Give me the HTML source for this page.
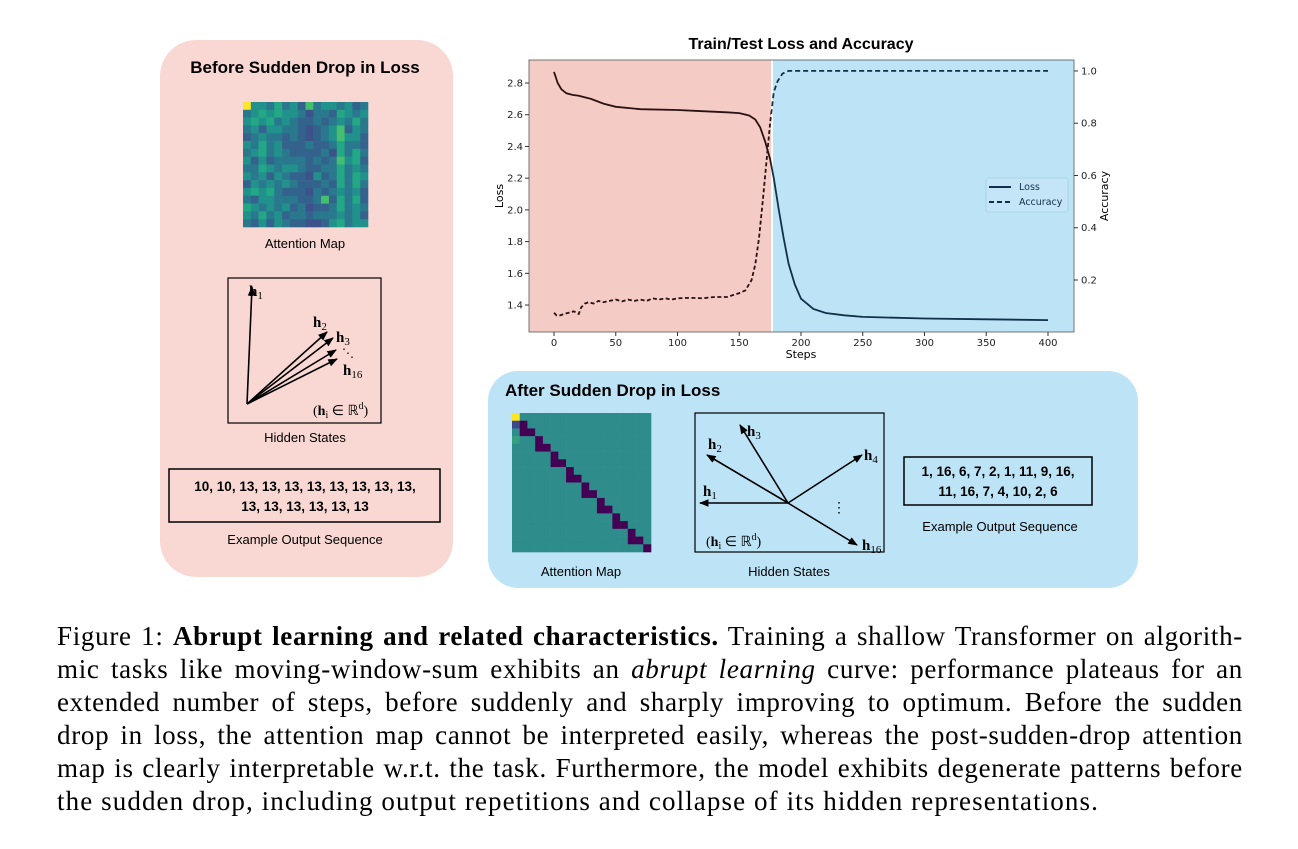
<!DOCTYPE html>
<html><head><meta charset="utf-8">
<style>
body{margin:0;background:#fff;width:1298px;height:849px;position:relative;overflow:hidden;font-family:"Liberation Sans",sans-serif}
.abs{position:absolute}
.cap{position:absolute;left:57px;width:1186px;font-family:"Liberation Serif",serif;font-size:27px;line-height:33px;top:620px;color:#000;letter-spacing:0.7px}
.cap div{text-align:justify;text-align-last:justify;white-space:nowrap}
.cap div.last{text-align-last:left;letter-spacing:1.1px}
</style></head><body>
<div class="abs" style="left:160px;top:40px;width:293px;height:537px;background:#f9d8d4;border-radius:36px"></div>
<div class="abs" style="left:488px;top:371px;width:650px;height:217px;background:#bde3f6;border-radius:30px"></div>
<svg class="abs" style="left:0;top:0" width="1298" height="620">
<defs>
<marker id="ah" viewBox="0 0 10 10" refX="9" refY="5" markerWidth="6" markerHeight="6" orient="auto-start-reverse"><path d="M0,1 L10,5 L0,9 z" fill="#000"/></marker>
<clipPath id="cl"><rect x="529" y="60" width="242" height="272"/></clipPath>
<clipPath id="cr"><rect x="771" y="60" width="303" height="272"/></clipPath>
</defs>
<text x="305" y="73" text-anchor="middle" font-size="17" font-weight="bold" font-family="Liberation Sans">Before Sudden Drop in Loss</text>
<g id="hm1"></g>
<text x="305" y="248" text-anchor="middle" font-size="13">Attention Map</text>
<rect x="228" y="278" width="153" height="145" fill="none" stroke="#000" stroke-width="1.2"/>
<g stroke="#000" stroke-width="1.6" marker-end="url(#ah)">
<line x1="247" y1="404" x2="252" y2="287"/><line x1="247" y1="404" x2="327" y2="332"/><line x1="247" y1="404" x2="333" y2="338"/><line x1="247" y1="404" x2="336" y2="350"/><line x1="247" y1="404" x2="337" y2="359"/></g>
<g font-family="Liberation Serif" font-size="15">
<text x="249" y="296" font-weight="bold">h<tspan font-size="11" font-weight="normal" dy="3">1</tspan></text>
<text x="313" y="327" font-weight="bold">h<tspan font-size="11" font-weight="normal" dy="3">2</tspan></text>
<text x="336" y="342" font-weight="bold">h<tspan font-size="11" font-weight="normal" dy="3">3</tspan></text>
<text x="342" y="357" font-size="12">⋱</text>
<text x="343" y="375" font-weight="bold">h<tspan font-size="11" font-weight="normal" dy="3">16</tspan></text>
<text x="313" y="415" font-size="14">(<tspan font-weight="bold">h</tspan><tspan font-size="10" dy="3">i</tspan><tspan dy="-3"> ∈ ℝ</tspan><tspan font-size="10" dy="-6">d</tspan><tspan dy="6">)</tspan></text></g>
<text x="305" y="442" text-anchor="middle" font-size="13">Hidden States</text>
<rect x="169" y="469" width="271" height="53" fill="none" stroke="#000" stroke-width="1.5"/>
<text x="305" y="491" text-anchor="middle" font-size="13.5" font-weight="bold">10, 10, 13, 13, 13, 13, 13, 13, 13, 13,</text>
<text x="305" y="511" text-anchor="middle" font-size="13.5" font-weight="bold">13, 13, 13, 13, 13, 13</text>
<text x="305" y="544" text-anchor="middle" font-size="13">Example Output Sequence</text>

<text x="505" y="396" font-size="17" font-weight="bold">After Sudden Drop in Loss</text>
<g id="hm2"></g>
<text x="581" y="576" text-anchor="middle" font-size="13">Attention Map</text>
<rect x="695" y="413" width="189" height="139" fill="none" stroke="#000" stroke-width="1.2"/>
<g stroke="#000" stroke-width="1.6" marker-end="url(#ah)">
<line x1="788" y1="503" x2="700" y2="503"/><line x1="788" y1="503" x2="707" y2="455"/><line x1="788" y1="503" x2="740" y2="425"/><line x1="788" y1="503" x2="862" y2="455"/><line x1="788" y1="503" x2="857" y2="545"/></g>
<g font-family="Liberation Serif" font-size="15">
<text x="703" y="496" font-weight="bold">h<tspan font-size="11" font-weight="normal" dy="3">1</tspan></text>
<text x="708" y="449" font-weight="bold">h<tspan font-size="11" font-weight="normal" dy="3">2</tspan></text>
<text x="747" y="436" font-weight="bold">h<tspan font-size="11" font-weight="normal" dy="3">3</tspan></text>
<text x="864" y="460" font-weight="bold">h<tspan font-size="11" font-weight="normal" dy="3">4</tspan></text>
<text x="862" y="550" font-weight="bold">h<tspan font-size="11" font-weight="normal" dy="3">16</tspan></text>
<text x="832" y="512" font-size="14">⋮</text>
<text x="706" y="546" font-size="14">(<tspan font-weight="bold">h</tspan><tspan font-size="10" dy="3">i</tspan><tspan dy="-3"> ∈ ℝ</tspan><tspan font-size="10" dy="-6">d</tspan><tspan dy="6">)</tspan></text></g>
<text x="789" y="576" text-anchor="middle" font-size="13">Hidden States</text>
<rect x="904" y="457" width="188" height="48" fill="none" stroke="#000" stroke-width="1.5"/>
<text x="998" y="476" text-anchor="middle" font-size="13.5" font-weight="bold">1, 16, 6, 7, 2, 1, 11, 9, 16,</text>
<text x="998" y="496" text-anchor="middle" font-size="13.5" font-weight="bold">11, 16, 7, 4, 10, 2, 6</text>
<text x="1000" y="531" text-anchor="middle" font-size="13">Example Output Sequence</text>

<text x="801" y="49" text-anchor="middle" font-size="16" font-weight="bold">Train/Test Loss and Accuracy</text>
<rect x="529" y="60" width="242" height="272" fill="#f5cbc6"/>
<rect x="773" y="60" width="301" height="272" fill="#bde3f7"/>
<rect x="529" y="60" width="545" height="272" fill="none" stroke="#555" stroke-width="0.8"/>
<g id="axes" font-family="DejaVu Sans" font-size="10" fill="#222"></g>
<path id="lossL" fill="none" stroke="#2a1212" stroke-width="1.8" clip-path="url(#cl)"/>
<path id="lossR" fill="none" stroke="#12304a" stroke-width="1.8" clip-path="url(#cr)"/>
<path id="accL" fill="none" stroke="#2a1212" stroke-width="1.8" stroke-dasharray="4,2.5" clip-path="url(#cl)"/>
<path id="accR" fill="none" stroke="#12304a" stroke-width="1.8" stroke-dasharray="5,3" clip-path="url(#cr)"/>
<text x="801" y="358" text-anchor="middle" font-size="11" font-family="DejaVu Sans">Steps</text>
<text transform="translate(503,196) rotate(-90)" text-anchor="middle" font-size="11" font-family="DejaVu Sans">Loss</text>
<text transform="translate(1108,196) rotate(-90)" text-anchor="middle" font-size="11" font-family="DejaVu Sans">Accuracy</text>
<g>
<rect x="986" y="178" width="82" height="34" fill="#c3e5f7" stroke="#9cc" stroke-width="0.6" rx="2"/>
<line x1="989" y1="187" x2="1011" y2="187" stroke="#12304a" stroke-width="2"/>
<text x="1019" y="190" font-size="9.5" font-family="DejaVu Sans" fill="#12304a">Loss</text>
<line x1="989" y1="202" x2="1011" y2="202" stroke="#12304a" stroke-width="2" stroke-dasharray="5,3"/>
<text x="1019" y="205" font-size="9.5" font-family="DejaVu Sans" fill="#12304a">Accuracy</text></g>
</svg>
<div class="cap">
<div>Figure 1: <b>Abrupt learning and related characteristics.</b> Training a shallow Transformer on algorith-</div>
<div>mic tasks like moving-window-sum exhibits an <i>abrupt learning</i> curve: performance plateaus for an</div>
<div>extended number of steps, before suddenly and sharply improving to optimum. Before the sudden</div>
<div>drop in loss, the attention map cannot be interpreted easily, whereas the post-sudden-drop attention</div>
<div>map is clearly interpretable w.r.t. the task. Furthermore, the model exhibits degenerate patterns before</div>
<div class="last">the sudden drop, including output repetitions and collapse of its hidden representations.</div>
</div>
<script>
const lossSteps=[0,3,6,10,15,20,30,40,50,70,100,120,140,150,158,163,167,171,175,178,182,186,190,195,200,210,220,235,250,300,350,400];
const lossVals=[2.87,2.80,2.76,2.735,2.725,2.72,2.70,2.67,2.65,2.635,2.63,2.622,2.615,2.61,2.595,2.57,2.52,2.43,2.32,2.2,2.0,1.82,1.66,1.53,1.44,1.375,1.35,1.335,1.325,1.315,1.31,1.305];
const accSteps=[0,2,5,8,12,16,20,22,25,28,32,36,40,45,50,55,60,65,70,75,80,85,90,95,100,110,120,130,140,150,155,160,163,166,169,172,175,178,181,185,190,200,300,400];
const accVals=[0.075,0.065,0.065,0.07,0.075,0.08,0.07,0.095,0.11,0.115,0.11,0.12,0.115,0.12,0.125,0.118,0.125,0.12,0.125,0.12,0.13,0.125,0.13,0.125,0.13,0.132,0.13,0.135,0.135,0.15,0.16,0.2,0.26,0.36,0.5,0.65,0.8,0.92,0.96,0.99,1.0,1.0,1.0,1.0];
const lossTicks=[1.4,1.6,1.8,2.0,2.2,2.4,2.6,2.8];
const accTicks=[0.2,0.4,0.6,0.8,1.0];
const stepTicks=[0,50,100,150,200,250,300,350,400];
const heat1=["9443534263443423","3454544313325434","4545343223234353","3424433212346243","2343323212346442","4353422232235332","3453432222315353","4242333323236452","3354344322335343","4342432214235354","2434343222325353","4545322213234342","3244333223625352","5434342312235343","4353423323334342","3242432211245344"];
const sx=s=>554+s*1.235, yl=v=>83+(2.8-v)*158.6, ya=v=>332.25-v*261.3;
const ns="http://www.w3.org/2000/svg";
function mk(tag,attrs,parent,txt){const e=document.createElementNS(ns,tag);for(const k in attrs)e.setAttribute(k,attrs[k]);if(txt!==undefined)e.textContent=txt;parent.appendChild(e);return e;}
const ax=document.getElementById('axes');
stepTicks.forEach(s=>{mk('line',{x1:sx(s),x2:sx(s),y1:332,y2:336,stroke:'#333'},ax);const t=mk('text',{x:sx(s),y:346,'text-anchor':'middle'},ax,String(s));

});
lossTicks.forEach(v=>{mk('line',{x1:525,x2:529,y1:yl(v),y2:yl(v),stroke:'#333'},ax);const t=mk('text',{x:523,y:yl(v)+3.5,'text-anchor':'end'},ax,v.toFixed(1));

});
accTicks.forEach(v=>{mk('line',{x1:1074,x2:1078,y1:ya(v),y2:ya(v),stroke:'#333'},ax);const t=mk('text',{x:1081,y:ya(v)+3.5},ax,v.toFixed(1));

});
const lp=lossSteps.map((s,i)=>(i?'L':'M')+sx(s).toFixed(1)+','+yl(lossVals[i]).toFixed(1)).join(' ');
const ap=accSteps.map((s,i)=>(i?'L':'M')+sx(s).toFixed(1)+','+ya(accVals[i]).toFixed(1)).join(' ');
['lossL','lossR'].forEach(id=>document.getElementById(id).setAttribute('d',lp));
['accL','accR'].forEach(id=>document.getElementById(id).setAttribute('d',ap));
const vir=['#440154','#3b528b','#33638d','#2a788e','#21918c','#22a884','#44bf70','#7ad151','#bddf26','#fde725'];
const g1=document.getElementById('hm1');const c1=125/16;
heat1.forEach((row,r)=>{[...row].forEach((ch,c)=>{const e=mk('rect',{x:243+c*c1,y:102+r*c1,width:c1+0.3,height:c1+0.3,fill:vir[+ch]},g1);

});});
const g2=document.getElementById('hm2');const n2=18,c2=139/n2;
for(let r=0;r<n2;r++)for(let c=0;c<n2;c++){let col='#2e8c8a';if(r===0&&c===0)col='#fde725';else if(r>=1&&(c===r||(c===r-1&&r>1&&r%2===0)))col='#440154';else if(c===0&&r===1)col='#3e4989';else if(c===0&&r===3)col='#35a07f';
const e=mk('rect',{x:512+c*c2,y:413+r*c2,width:c2+0.3,height:c2+0.3,fill:col},g2);

}
</script>
</body></html>
